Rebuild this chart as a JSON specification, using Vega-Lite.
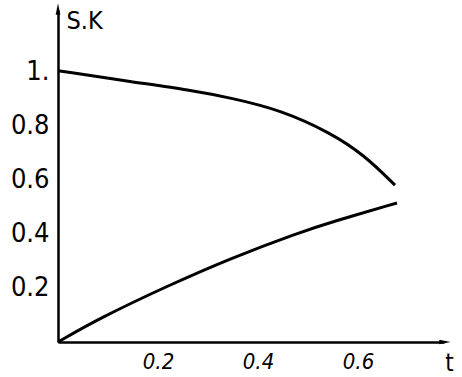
{
  "$schema": "https://vega.github.io/schema/vega-lite/v6.json",
  "autosize": {"type": "none"},
  "padding": {"left": 58, "top": 10, "right": 18, "bottom": 35},
  "width": 386,
  "height": 332,
  "background": "white",
  "config": {"view": {"stroke": null}},
  "layer": [
    {
      "data": {"values": [
        {"series": "S", "t": 0, "v": 1.005},
        {"series": "S", "t": 0.15, "v": 0.963},
        {"series": "S", "t": 0.264, "v": 0.933},
        {"series": "S", "t": 0.346, "v": 0.904},
        {"series": "S", "t": 0.446, "v": 0.859},
        {"series": "S", "t": 0.546, "v": 0.774},
        {"series": "S", "t": 0.612, "v": 0.693},
        {"series": "S", "t": 0.674, "v": 0.581},
        {"series": "K", "t": 0, "v": 0},
        {"series": "K", "t": 0.084, "v": 0.089},
        {"series": "K", "t": 0.218, "v": 0.207},
        {"series": "K", "t": 0.346, "v": 0.311},
        {"series": "K", "t": 0.48, "v": 0.404},
        {"series": "K", "t": 0.546, "v": 0.444},
        {"series": "K", "t": 0.678, "v": 0.515}
      ]},
      "mark": {"type": "line", "color": "black", "strokeWidth": 3, "interpolate": "basis"},
      "encoding": {
        "x": {
          "field": "t", "type": "quantitative",
          "scale": {"domain": [0, 0.772], "nice": false, "zero": true},
          "axis": {
            "values": [0.2, 0.4, 0.6],
            "format": ".1f",
            "grid": false,
            "ticks": false,
            "domainColor": "black",
            "domainWidth": 2.5,
            "labelFont": "DejaVu Sans Condensed",
            "labelFontStyle": "italic",
            "labelFontSize": 22,
            "labelColor": "black",
            "labelPadding": 9,
            "labelBaseline": "top",
            "title": "t",
            "titleFont": "DejaVu Sans Condensed",
            "titleFontSize": 24,
            "titleFontWeight": "normal",
            "titleColor": "black",
            "titleX": 391,
            "titleY": 28,
            "titleAlign": "center",
            "titleBaseline": "alphabetic"
          }
        },
        "y": {
          "field": "v", "type": "quantitative",
          "scale": {"domain": [0, 1.2296], "nice": false, "zero": true},
          "axis": {
            "values": [0.2, 0.4, 0.6, 0.8, 1.0],
            "labelExpr": "datum.value == 1 ? '1.' : format(datum.value, '.1f')",
            "grid": false,
            "ticks": false,
            "domainColor": "black",
            "domainWidth": 2.5,
            "labelFont": "DejaVu Sans Condensed",
            "labelFontSize": 27,
            "labelColor": "black",
            "labelPadding": 9,
            "title": "S.K",
            "titleFont": "DejaVu Sans Condensed",
            "titleFontSize": 25,
            "titleFontWeight": "normal",
            "titleColor": "black",
            "titleAngle": 0,
            "titleAlign": "left",
            "titleBaseline": "top",
            "titleX": 8,
            "titleY": -2
          }
        },
        "detail": {"field": "series", "type": "nominal"}
      }
    },
    {
      "data": {"values": [{"t": 0, "v": 1.2296}]},
      "mark": {"type": "point", "shape": "M0,-1L-0.35,0.7L0.35,0.7Z", "filled": true, "color": "black", "size": 180, "opacity": 1},
      "encoding": {
        "x": {"field": "t", "type": "quantitative"},
        "y": {"field": "v", "type": "quantitative"}
      }
    },
    {
      "data": {"values": [{"t": 0.772, "v": 0}]},
      "mark": {"type": "point", "shape": "M1,0L-0.7,-0.35L-0.7,0.35Z", "filled": true, "color": "black", "size": 180, "opacity": 1},
      "encoding": {
        "x": {"field": "t", "type": "quantitative"},
        "y": {"field": "v", "type": "quantitative"}
      }
    }
  ]
}
